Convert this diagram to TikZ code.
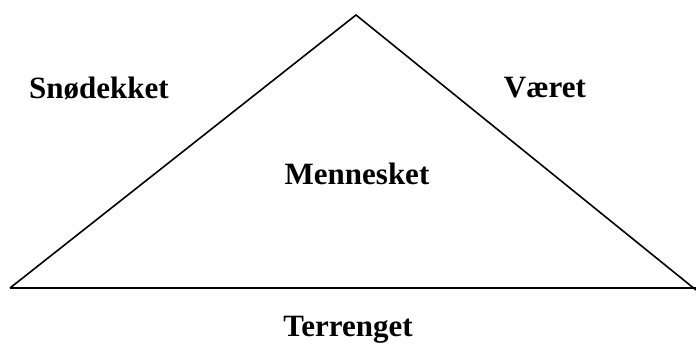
\documentclass[tikz,border=0pt]{standalone}
\usepackage{fontspec}
\setmainfont{Liberation Serif}
\usepackage{tikz}

\begin{document}
\begin{tikzpicture}[
    x=1pt, y=-1pt,
    label/.style={font=\fontsize{31}{34}\selectfont\bfseries, inner sep=0pt},
    edge/.style={line width=1.6pt, black}
]
\useasboundingbox (0,0) rectangle (696,347);
\coordinate (left) at (10,288);
\coordinate (apex) at (356,15);
\coordinate (right) at (696,290);
\coordinate (baseend) at (696,288);
\node[label] (snow) at (99,88) {Snødekket};
\node[label] (weather) at (545,88) {Været};
\node[label] (human) at (357,174) {Mennesket};
\node[label] (terrain) at (348,330) {Terrenget};
\draw[edge] (left) -- (apex) -- (right);
\draw[edge] (left) -- (baseend);
\end{tikzpicture}
\end{document}
